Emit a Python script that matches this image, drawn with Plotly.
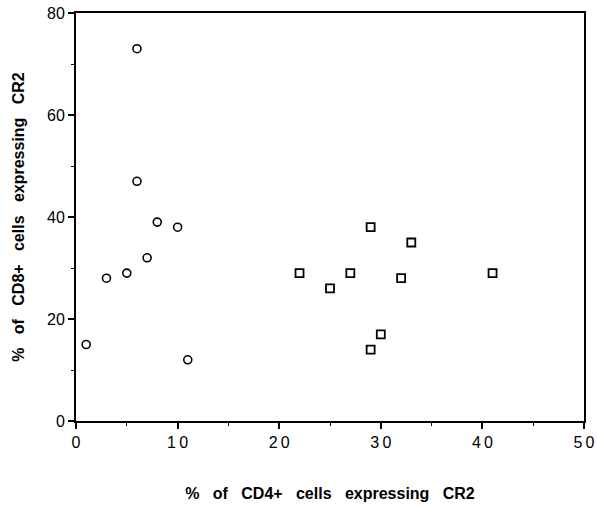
import plotly.graph_objects as go

# circles
circle_x = [1, 3, 5, 6, 6, 7, 8, 10, 11]
circle_y = [15, 28, 29, 73, 47, 32, 39, 38, 12]
# squares
square_x = [22, 25, 27, 29, 33, 32, 41, 30, 29]
square_y = [29, 26, 29, 38, 35, 28, 29, 17, 14]

x_tickvals = [0, 10, 20, 30, 40, 50]
x_ticktext = ["0", "1\u20090", "2\u20090", "3\u20090", "4\u20090", "5\u20090"]
y_tickvals = [0, 20, 40, 60, 80]
y_ticktext = ["0", "20", "40", "60", "80"]

S = "\u00a0\u00a0\u00a0"
fig = go.Figure()
fig.add_trace(go.Scatter(
    x=circle_x, y=circle_y, mode="markers",
    marker=dict(symbol="circle-open", size=8, color="black", line=dict(width=1.6)),
    showlegend=False))
fig.add_trace(go.Scatter(
    x=square_x, y=square_y, mode="markers",
    marker=dict(symbol="square-open", size=8, color="black", line=dict(width=1.8)),
    showlegend=False))

fig.update_layout(
    width=597, height=506,
    margin=dict(l=76, r=13, t=13, b=85, autoexpand=False),
    paper_bgcolor="white", plot_bgcolor="white",
    font=dict(family="Liberation Sans, Arial, sans-serif", color="black"),
    xaxis=dict(
        range=[0, 50], tickvals=x_tickvals, ticktext=x_ticktext,
        ticks="outside", ticklen=6, tickwidth=1.5, tickcolor="black",
        showline=True, linecolor="black", linewidth=2, mirror=True,
        showgrid=False, zeroline=False, automargin=False,
        tickfont=dict(size=16),
        minor=dict(tickvals=[5, 15, 25, 35, 45], ticks="outside", ticklen=3, tickcolor="black", tickwidth=1.2),
        title=dict(text=f"<b>%{S}of{S}CD4+{S}cells{S}expressing{S}CR2</b>", font=dict(size=16), standoff=38),
    ),
    yaxis=dict(
        range=[0, 80], tickvals=y_tickvals, ticktext=y_ticktext,
        ticks="outside", ticklen=6, tickwidth=1.5, tickcolor="black",
        showline=True, linecolor="black", linewidth=2, mirror=True,
        showgrid=False, zeroline=False, automargin=False,
        tickfont=dict(size=16),
        minor=dict(tickvals=[10, 30, 50, 70], ticks="outside", ticklen=3, tickcolor="black", tickwidth=1.2),
        title=dict(text=f"<b>%{S}of{S}CD8+{S}cells{S}expressing{S}CR2</b>", font=dict(size=16), standoff=18),
    ),
)
fig.write_html("out.html", config={"displayModeBar": False},
               post_script="document.body.style.margin='0';")
